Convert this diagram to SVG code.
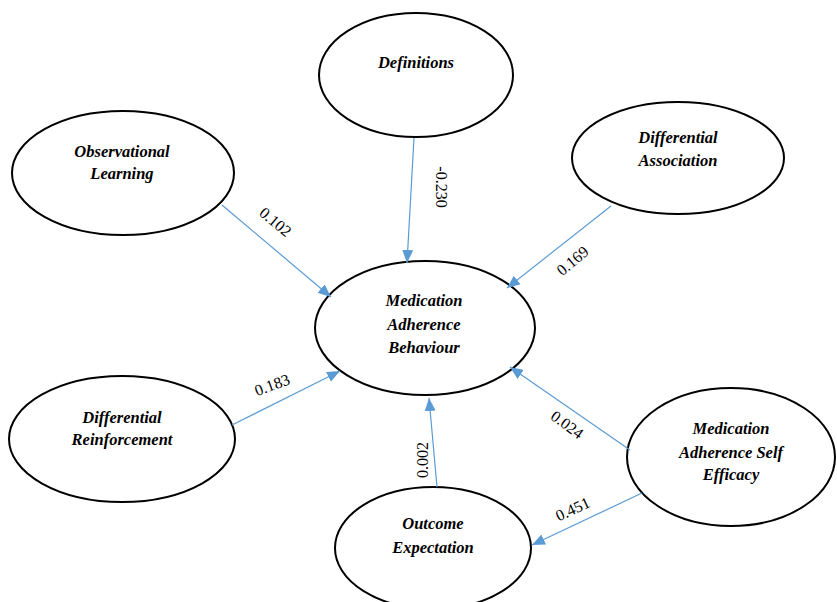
<svg xmlns="http://www.w3.org/2000/svg" width="837" height="602" viewBox="0 0 837 602">
<style>
.n{fill:#fff;stroke:#000;stroke-width:2}
.t{font-family:"Liberation Serif",serif;font-weight:bold;font-style:italic;font-size:16.5px;text-anchor:middle;fill:#000}
.c{stroke:#5b9bd5;stroke-width:1.2;fill:none;marker-end:url(#ah)}
.l{font-family:"Liberation Serif",serif;font-size:16px;text-anchor:middle;fill:#000}
</style>
<defs>
<marker id="ah" viewBox="0 0 13 11" refX="13" refY="5.5" markerWidth="13" markerHeight="11" markerUnits="userSpaceOnUse" orient="auto">
<path d="M0,0 L13,5.5 L0,11 Z" fill="#5b9bd5"/>
</marker>
</defs>
<rect width="837" height="602" fill="#fff"/>
<g id="observational">
<ellipse class="n" cx="123" cy="173" rx="111" ry="62"/>
<text class="t" x="122" y="157">Observational</text>
<text class="t" x="122" y="179">Learning</text>
</g>
<g id="definitions">
<ellipse class="n" cx="416" cy="75" rx="97" ry="62"/>
<text class="t" x="416" y="68">Definitions</text>
</g>
<g id="diffassoc">
<ellipse class="n" cx="678" cy="158" rx="106" ry="56"/>
<text class="t" x="678" y="143">Differential</text>
<text class="t" x="678" y="166">Association</text>
</g>
<g id="mab">
<ellipse class="n" cx="425" cy="328" rx="110" ry="67"/>
<text class="t" x="424" y="306">Medication</text>
<text class="t" x="424" y="330">Adherence</text>
<text class="t" x="424" y="353">Behaviour</text>
</g>
<g id="diffreinf">
<ellipse class="n" cx="122" cy="439" rx="113" ry="63"/>
<text class="t" x="122" y="423">Differential</text>
<text class="t" x="122" y="445">Reinforcement</text>
</g>
<g id="outcome">
<ellipse class="n" cx="433" cy="548" rx="98" ry="61"/>
<text class="t" x="433" y="529">Outcome</text>
<text class="t" x="433" y="553">Expectation</text>
</g>
<g id="selfefficacy">
<ellipse class="n" cx="731" cy="457" rx="104" ry="69"/>
<text class="t" x="731" y="434">Medication</text>
<text class="t" x="731" y="458">Adherence Self</text>
<text class="t" x="731" y="480">Efficacy</text>
</g>
<g id="connectors">
<line class="c" x1="222" y1="205" x2="331" y2="297"/>
<line class="c" x1="414" y1="138" x2="407" y2="263"/>
<line class="c" x1="611" y1="206" x2="507" y2="288"/>
<line class="c" x1="232" y1="425" x2="340" y2="371"/>
<line class="c" x1="437" y1="487" x2="429" y2="398"/>
<line class="c" x1="630" y1="450" x2="510" y2="367"/>
<line class="c" x1="642" y1="493" x2="532" y2="545"/>
<text class="l" transform="translate(272,226) rotate(40)">0.102</text>
<text class="l" transform="translate(436,187) rotate(90)">-0.230</text>
<text class="l" transform="translate(576,265) rotate(-40)">0.169</text>
<text class="l" transform="translate(274,390) rotate(-20)">0.183</text>
<text class="l" transform="translate(428,460) rotate(-90)">0.002</text>
<text class="l" transform="translate(564,429) rotate(36)">0.024</text>
<text class="l" transform="translate(575,514) rotate(-25)">0.451</text>
</g>
</svg>
